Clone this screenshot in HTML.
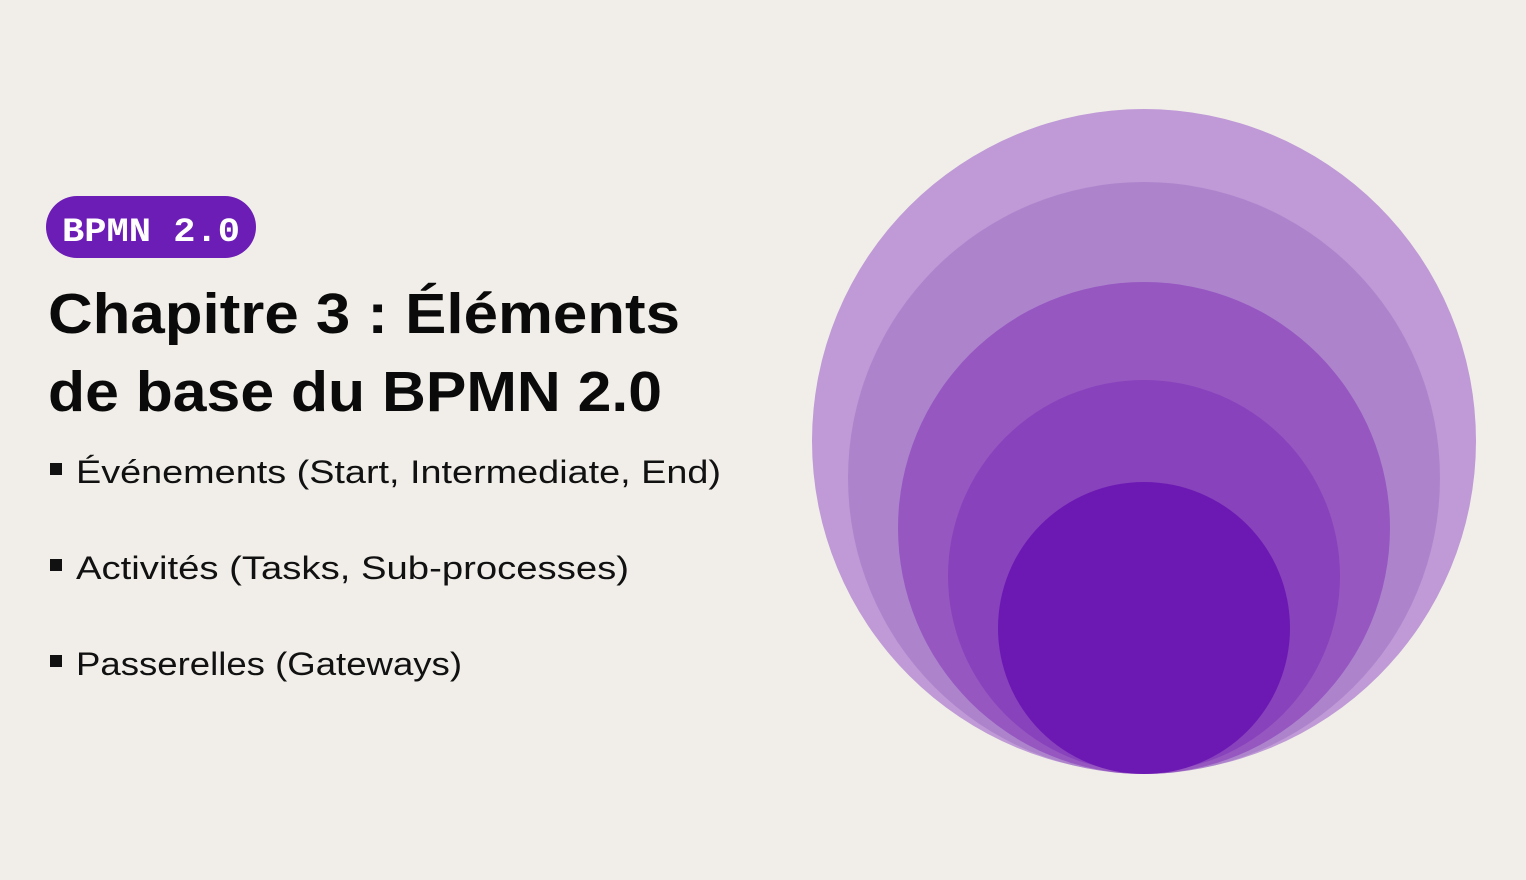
<!DOCTYPE html>
<html><head><meta charset="utf-8"><style>
html,body{margin:0;padding:0;background:#F1EEE9;}
svg{display:block}
</style></head><body>
<svg width="1526" height="880" viewBox="0 0 1526 880" xmlns="http://www.w3.org/2000/svg">
<rect width="1526" height="880" fill="#F1EEE9"/>
<circle cx="1144" cy="441" r="332" fill="#BF9AD6"/>
<circle cx="1144" cy="478" r="296" fill="#AD84CC"/>
<circle cx="1144" cy="528" r="246" fill="#9657C1"/>
<circle cx="1144" cy="576" r="196" fill="#8842BC"/>
<circle cx="1144" cy="628" r="146" fill="#6C19B3"/>
<rect x="46" y="196" width="210" height="62" rx="31" fill="#6C1DB5"/>
<text x="62" y="241" font-family="Liberation Mono, monospace" font-weight="bold" font-size="34" fill="#fff" textLength="178" lengthAdjust="spacingAndGlyphs">BPMN 2.0</text>
<g font-family="Liberation Sans, sans-serif" font-weight="bold" font-size="57" fill="#0a0a0a">
<text x="48" y="333" textLength="632" lengthAdjust="spacingAndGlyphs">Chapitre 3 : Éléments</text>
<text x="48" y="411" textLength="614" lengthAdjust="spacingAndGlyphs">de base du BPMN 2.0</text>
</g>
<g fill="#111">
<rect x="50" y="463" width="12" height="12"/>
<rect x="50" y="559" width="12" height="12"/>
<rect x="50" y="655" width="12" height="12"/>
</g>
<g font-family="Liberation Sans, sans-serif" font-size="32" fill="#111">
<text x="76" y="483" textLength="645" lengthAdjust="spacingAndGlyphs">Événements (Start, Intermediate, End)</text>
<text x="76" y="579" textLength="553" lengthAdjust="spacingAndGlyphs">Activités (Tasks, Sub-processes)</text>
<text x="76" y="675" textLength="386" lengthAdjust="spacingAndGlyphs">Passerelles (Gateways)</text>
</g>
</svg>
</body></html>
